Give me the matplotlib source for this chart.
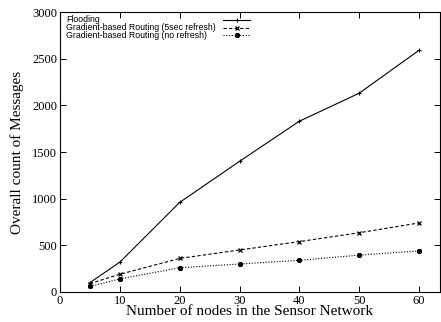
import matplotlib
matplotlib.use("Agg")
import matplotlib.pyplot as plt
from matplotlib.lines import Line2D

nodes = [5, 10, 20, 30, 40, 50, 60]
flooding = [100, 320, 960, 1400, 1830, 2130, 2590]
grad_5sec = [90, 190, 360, 450, 540, 635, 740]
grad_norefresh = [60, 140, 260, 300, 340, 395, 440]
labels = ["Flooding", "Gradient-based Routing (5sec refresh)", "Gradient-based Routing (no refresh)"]
xticks = [0, 10, 20, 30, 40, 50, 60]
yticks = [0, 500, 1000, 1500, 2000, 2500, 3000]

serif = ["Liberation Serif", "DejaVu Serif"]
sans = ["Liberation Sans", "DejaVu Sans"]

fig = plt.figure(figsize=(4.41, 3.22), dpi=100)
ax = fig.add_axes([60/441, 1-292/322, (440-60)/441, (292-12)/322])

styles = [
    dict(ls="-", marker="+", ms=3.2, mew=0.8),
    dict(ls=(0, (3, 2)), marker="x", ms=3.0, mew=0.9),
    dict(ls=(0, (1, 1.5)), marker=(8, 2, 0), ms=3.6, mew=1.0),
]
series = [flooding, grad_5sec, grad_norefresh]
for ys, st in zip(series, styles):
    ax.plot(nodes, ys, color="black", lw=0.8, **st)

ax.set_xlim(0, 63.5)
ax.set_ylim(0, 3000)
ax.set_xticks(xticks)
ax.set_yticks(yticks)
ax.tick_params(direction="in", top=True, right=True, length=4, width=0.7, labelsize=9, pad=2)
for lab in ax.get_xticklabels() + ax.get_yticklabels():
    lab.set_family(serif)
for s in ax.spines.values():
    s.set_linewidth(0.8)

ax.set_xlabel("Number of nodes in the Sensor Network", family=serif, fontsize=11, labelpad=-1)
ax.set_ylabel("Overall count of Messages", family=serif, fontsize=11, labelpad=6)

# legend drawn in axes coordinates (gnuplot style: text left, sample right)
ypos = [19.8, 27.5, 35.2]
for lab, st, yp in zip(labels, styles, ypos):
    ya = 1 - (yp - 12) / 280
    ax.text(6/380, ya, lab, transform=ax.transAxes, family=sans, fontsize=6.3,
            va="center", ha="left")
    ln = Line2D([(223-60)/380, (250-60)/380], [ya, ya], transform=ax.transAxes,
                color="black", lw=0.8, ls=st["ls"])
    ax.add_line(ln)
    mk = Line2D([(236.5-60)/380], [ya], transform=ax.transAxes, color="black",
                marker=st["marker"], ms=st["ms"], mew=st["mew"], ls="none")
    ax.add_line(mk)

fig.savefig("out.png", dpi=100)
